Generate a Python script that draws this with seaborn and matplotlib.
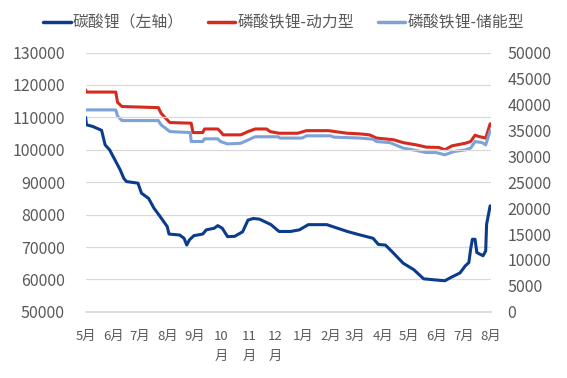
import numpy as np
import pandas as pd
import matplotlib
matplotlib.use("Agg")
import matplotlib.pyplot as plt
import seaborn as sns

# ---- data ----
carbonate_dates = [
    "2024-05-01", "2024-05-02", "2024-05-09", "2024-05-19", "2024-05-23", "2024-05-28",
    "2024-06-03", "2024-06-09", "2024-06-13", "2024-06-16", "2024-06-29", "2024-07-03",
    "2024-07-11", "2024-07-17", "2024-07-24", "2024-08-01", "2024-08-03", "2024-08-15",
    "2024-08-20", "2024-08-23", "2024-08-26", "2024-08-31", "2024-09-10", "2024-09-14",
    "2024-09-23", "2024-09-27", "2024-10-02", "2024-10-08", "2024-10-16", "2024-10-25",
    "2024-10-31", "2024-11-06", "2024-11-13", "2024-11-26", "2024-12-05", "2024-12-18",
    "2024-12-28", "2025-01-07", "2025-01-28", "2025-02-09", "2025-02-20", "2025-03-04",
    "2025-03-21", "2025-03-27", "2025-04-04", "2025-04-11", "2025-04-24", "2025-05-06",
    "2025-05-17", "2025-05-28", "2025-06-10", "2025-06-16", "2025-06-27", "2025-07-03",
    "2025-07-07", "2025-07-09", "2025-07-11", "2025-07-14", "2025-07-16", "2025-07-23",
    "2025-07-26", "2025-07-27", "2025-07-31",
]
carbonate = [
    110000, 107700, 107200, 106000, 101500, 100000,
    96900, 93800, 91200, 90200, 89700, 86600,
    85000, 82000, 79400, 76300, 74000, 73700,
    72700, 70600, 72200, 73500, 74000, 75300,
    75800, 76600, 75800, 73200, 73300, 74700,
    78300, 78800, 78600, 76900, 74800, 74800,
    75300, 76900, 76900, 75800, 74800, 73900,
    72700, 70800, 70600, 68700, 65000, 63000,
    60200, 59900, 59600, 60500, 62000, 64200,
    65200, 69300, 72400, 72400, 68300, 67300,
    68800, 77000, 82700,
]

power_dates = [
    "2024-05-01", "2024-05-02", "2024-06-04", "2024-06-06", "2024-06-11", "2024-07-22",
    "2024-07-25", "2024-07-30", "2024-08-04", "2024-08-28", "2024-08-30", "2024-09-10",
    "2024-09-12", "2024-09-27", "2024-09-30", "2024-10-03", "2024-10-23", "2024-10-31",
    "2024-11-08", "2024-11-21", "2024-11-25", "2024-12-05", "2024-12-26", "2025-01-05",
    "2025-01-30", "2025-02-09", "2025-02-20", "2025-03-06", "2025-03-17", "2025-03-25",
    "2025-04-13", "2025-04-24", "2025-05-09", "2025-05-20", "2025-06-03", "2025-06-10",
    "2025-06-18", "2025-07-03", "2025-07-09", "2025-07-14", "2025-07-18", "2025-07-26",
    "2025-07-31",
]
power = [
    42800, 42380, 42380, 40380, 39590, 39380,
    38320, 37380, 36500, 36380, 34570, 34570,
    35260, 35260, 34760, 34130, 34130, 34760,
    35260, 35260, 34760, 34440, 34440, 34940,
    34940, 34690, 34440, 34320, 34130, 33510,
    33190, 32630, 32190, 31760, 31700, 31260,
    32010, 32510, 32840, 34070, 33820, 33510,
    36260,
]

storage_dates = [
    "2024-05-01", "2024-06-04", "2024-06-06", "2024-06-11", "2024-07-22", "2024-07-25",
    "2024-07-30", "2024-08-04", "2024-08-27", "2024-08-28", "2024-09-10", "2024-09-12",
    "2024-09-27", "2024-09-30", "2024-10-08", "2024-10-23", "2024-10-31", "2024-11-08",
    "2024-12-04", "2024-12-06", "2024-12-31", "2025-01-05", "2025-02-01", "2025-02-05",
    "2025-03-06", "2025-03-21", "2025-03-25", "2025-04-09", "2025-04-24", "2025-05-09",
    "2025-05-20", "2025-05-31", "2025-06-10", "2025-06-20", "2025-07-03", "2025-07-09",
    "2025-07-14", "2025-07-22", "2025-07-26", "2025-07-31",
]
storage = [
    38940, 38940, 37750, 36880, 36880, 36070,
    35420, 34760, 34570, 32840, 32840, 33360,
    33360, 32840, 32380, 32510, 33130, 33760,
    33760, 33510, 33510, 33940, 33940, 33690,
    33510, 33290, 32840, 32630, 31570, 31110,
    30720, 30720, 30280, 30910, 31230, 31570,
    32840, 32630, 32190, 34940,
]

month_ticks = pd.date_range("2024-05-01", "2025-08-01", freq="MS")
month_labels = ["5月", "6月", "7月", "8月", "9月", "10\n月", "11\n月", "12\n月",
                "1月", "2月", "3月", "4月", "5月", "6月", "7月", "8月"]

series_names = ["碳酸锂（左轴）", "磷酸铁锂-动力型", "磷酸铁锂-储能型"]
colors = ["#0B3C8C", "#D52B1E", "#7CA2D6"]

# ---- plotting ----
sns.set_theme(style="white")
plt.rcParams["font.family"] = ["Noto Sans CJK SC", "DejaVu Sans"]

df_c = pd.DataFrame({"date": pd.to_datetime(carbonate_dates), "price": carbonate})
df_p = pd.DataFrame({"date": pd.to_datetime(power_dates), "price": power})
df_s = pd.DataFrame({"date": pd.to_datetime(storage_dates), "price": storage})

fig, ax = plt.subplots(figsize=(5.67, 3.78), dpi=100)
fig.subplots_adjust(left=0.151, right=0.866, top=0.861, bottom=0.175)
ax2 = ax.twinx()

sns.lineplot(data=df_c, x="date", y="price", ax=ax, color=colors[0], lw=2.2)
sns.lineplot(data=df_p, x="date", y="price", ax=ax2, color=colors[1], lw=2.2)
sns.lineplot(data=df_s, x="date", y="price", ax=ax2, color=colors[2], lw=2.2)

ax.set_ylim(50000, 130000)
ax.set_yticks(np.arange(50000, 130001, 10000))
ax2.set_ylim(0, 50000)
ax2.set_yticks(np.arange(0, 50001, 5000))
ax.set_xlim(month_ticks[0], month_ticks[-1])
ax.set_xticks(month_ticks)
ax.set_xticklabels(month_labels, linespacing=1.75)

tick_color = "#595959"
for a in (ax, ax2):
    a.set_xlabel("")
    a.set_ylabel("")
    for s in a.spines.values():
        s.set_visible(False)
ax.tick_params(axis="y", length=0, labelsize=11.5, labelcolor=tick_color, pad=15)
ax2.tick_params(axis="y", length=0, labelsize=11.5, labelcolor=tick_color, pad=12)
ax.spines["bottom"].set_visible(True)
ax.spines["bottom"].set_color("#d9d9d9")
ax.tick_params(axis="x", length=4, color="#d9d9d9", labelsize=9.5, labelcolor=tick_color, pad=9)
ax.grid(axis="y", color="#d9d9d9", lw=0.9)
ax.set_axisbelow(True)
ax.set_zorder(ax2.get_zorder() + 1)
ax.patch.set_visible(False)

handles = [plt.Line2D([], [], color=c, lw=2.5) for c in colors]
fig.legend(handles, series_names, loc="upper center", bbox_to_anchor=(0.5, 1.0),
           ncol=3, frameon=False, fontsize=11.4, handlelength=1.75, handletextpad=0.12,
           columnspacing=1.5, labelcolor=tick_color)

fig.savefig("out.png", dpi=100)
